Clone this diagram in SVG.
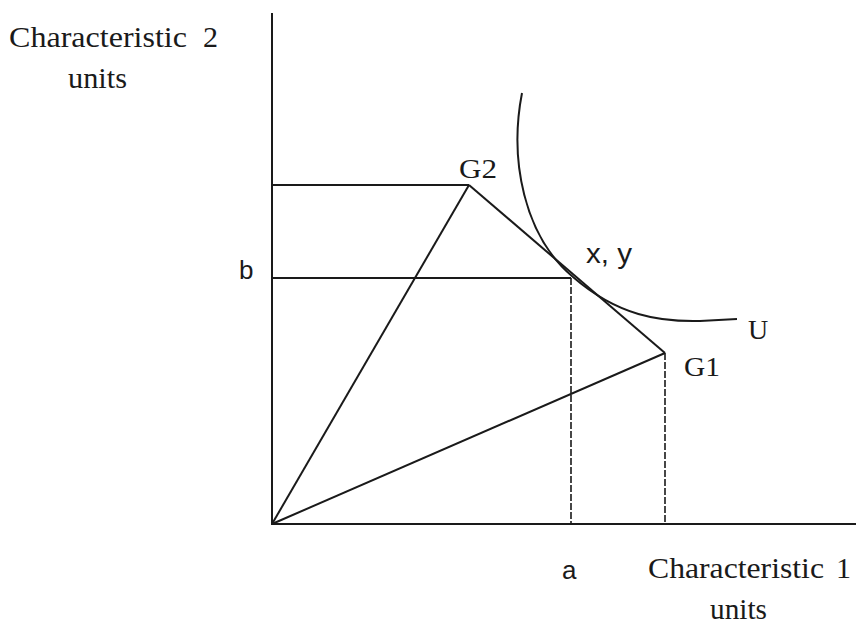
<svg xmlns="http://www.w3.org/2000/svg" width="856" height="624" viewBox="0 0 856 624">
<style>
.ln{stroke:#1a1a1a;stroke-width:2;fill:none}
.ds{stroke:#1a1a1a;stroke-width:1.6;fill:none;stroke-dasharray:7 2}
.sf{font-family:"Liberation Serif",serif;fill:#1a1a1a}
.ss{font-family:"Liberation Sans",sans-serif;fill:#1a1a1a}
</style>
<rect width="856" height="624" fill="#fff"/>
<g id="axes">
<line class="ln" x1="272" y1="13" x2="272" y2="525"/>
<line class="ln" x1="271" y1="524" x2="856" y2="524"/>
</g>
<g id="connectors">
<line class="ln" x1="272" y1="185" x2="469" y2="185"/>
<line class="ln" x1="272" y1="278" x2="571" y2="278"/>
<line class="ln" x1="272" y1="524" x2="469" y2="185"/>
<line class="ln" x1="272" y1="524" x2="665" y2="353"/>
<line class="ln" x1="469" y1="185" x2="665" y2="353"/>
<line class="ds" x1="571" y1="278" x2="571" y2="524"/>
<line class="ds" x1="665" y1="353" x2="665" y2="524"/>
</g>
<g id="curveU">
<path class="ln" d="M522,93 C509,160 524,236 573,277 C618,316 660,322 700,321 L737,319"/>
</g>
<g id="labels">
<text class="sf" x="9" y="47" font-size="30" textLength="178" lengthAdjust="spacingAndGlyphs">Characteristic</text>
<text class="sf" x="203" y="47" font-size="30">2</text>
<text class="sf" x="68" y="88" font-size="30" textLength="59" lengthAdjust="spacingAndGlyphs">units</text>
<text class="sf" x="648" y="578" font-size="30" textLength="176" lengthAdjust="spacingAndGlyphs">Characteristic</text>
<text class="sf" x="836" y="578" font-size="30">1</text>
<text class="sf" x="710" y="619" font-size="30" textLength="57" lengthAdjust="spacingAndGlyphs">units</text>
<text class="sf" x="459" y="178" font-size="27" textLength="38" lengthAdjust="spacingAndGlyphs">G2</text>
<text class="sf" x="684" y="376" font-size="27" textLength="36" lengthAdjust="spacingAndGlyphs">G1</text>
<text class="sf" x="748" y="339" font-size="28">U</text>
<text class="ss" x="586" y="263" font-size="27" textLength="46" lengthAdjust="spacingAndGlyphs">x, y</text>
<text class="ss" x="239" y="279" font-size="26">b</text>
<text class="ss" x="562" y="579" font-size="26">a</text>
</g>
</svg>
